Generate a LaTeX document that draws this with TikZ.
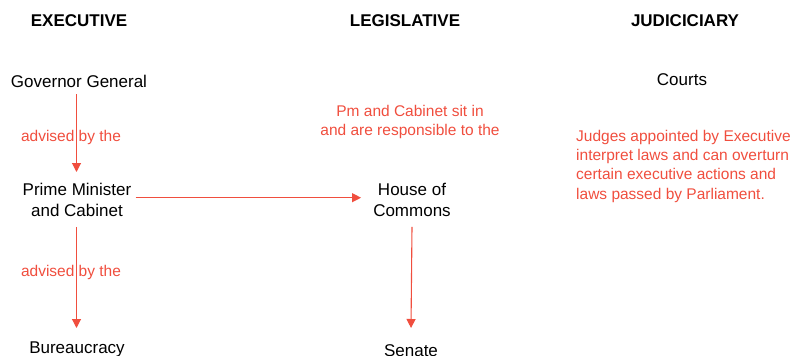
\documentclass[tikz,border=0pt]{standalone}
\usepackage{fontspec}
\setmainfont{Liberation Sans}
\usetikzlibrary{arrows.meta}
\definecolor{redx}{RGB}{240,78,62}
\tikzset{
  head/.style={font=\fontsize{17}{20}\selectfont\bfseries, inner sep=0pt, anchor=base},
  item/.style={font=\fontsize{17}{21}\selectfont, inner sep=0pt, anchor=base, align=center},
  note/.style={font=\fontsize{15.5}{19}\selectfont, text=redx, inner sep=0pt, anchor=base},
  arr/.style={draw=redx, line width=1.1pt, -{Triangle[length=9pt,width=9pt]}}
}
\begin{document}
\begin{tikzpicture}[x=1pt,y=-1pt]
\useasboundingbox (0,0) rectangle (798,356);
% headings
\node[head] (hexe) at (79,27) {EXECUTIVE};
\node[head] (hleg) at (405,27) {LEGISLATIVE};
\node[head] (hjud) at (685,27) {JUDICICIARY};
% executive
\node[item] (gg) at (79,87) {Governor General};
\node[item] (pm) at (77,216.5) {Prime Minister\\and Cabinet};
\node[item] (bur) at (77,353) {Bureaucracy};
% legislative
\node[item] (hoc) at (412,216.5) {House of\\Commons};
\node[item] (sen) at (411,356.5) {Senate};
% judiciary
\node[item] (crt) at (682,85) {Courts};
% connectors
\coordinate (a1s) at (76.5,95);
\coordinate (a1e) at (76.5,172);
\draw[arr] (gg.south -| a1s) ++(0,7) -- (a1e);
\path (pm.east |- 0,197.7) ++(4,0) coordinate (hs);
\path (hs -| hoc.west) ++(-12,0) coordinate (he);
\draw[arr] (hs) -- (he);
\draw[arr] (pm.south -| a1s) ++(0,10) -- (76.5,328);
\draw[arr] (hoc.south) ++(0,10) -- (411,328);
% notes
\node[note] (n1) at (71,141) {advised by the};
\node[note] (n2) at (71,276) {advised by the};
\node[note, align=center] (n3) at (410,135.5) {Pm and Cabinet sit in\\and are responsible to the};
\node[note, align=left, anchor=base west, font=\fontsize{15.5}{19.2}\selectfont] (n4) at (576,199) {Judges appointed by Executive\\interpret laws and can overturn\\certain executive actions and\\laws passed by Parliament.};
\end{tikzpicture}
\end{document}
